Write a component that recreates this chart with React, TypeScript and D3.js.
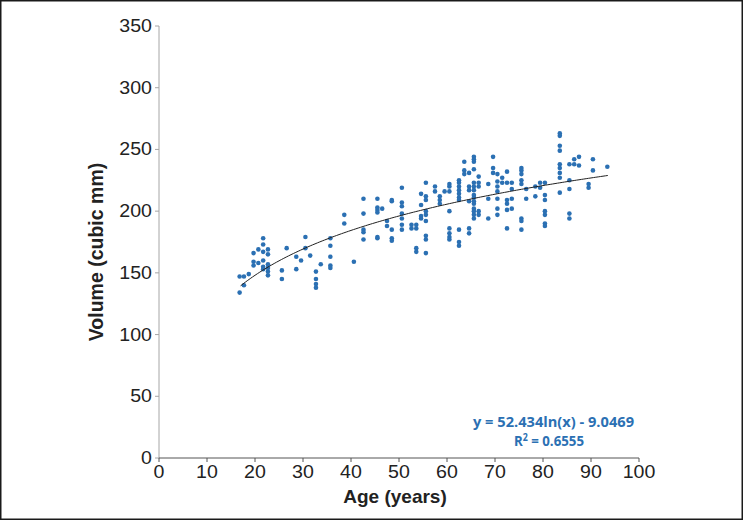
import React, { useEffect } from "react";
import * as d3 from "d3";

// Age (years) of each column of points
const AGES = [
  16.8, 17.7, 18.7, 19.7, 20.7, 21.7, 22.7, 25.6, 26.6, 28.6, 29.6, 30.5, 31.5,
  32.7, 33.7, 35.7, 38.6, 40.6, 42.6, 45.5, 46.5, 47.5, 48.5, 50.6, 52.6, 53.6,
  54.6, 55.6, 57.5, 58.5, 59.5, 60.5, 62.5, 63.6, 64.6, 65.6, 66.6, 68.6, 69.6,
  70.5, 71.5, 72.5, 73.5, 75.5, 76.5, 78.4, 79.4, 80.4, 83.5, 85.5, 86.5, 87.5,
  89.5, 90.4, 93.4,
];

// Volume (cubic mm) values for each age above
const VOLUMES = [
  [147, 134],
  [147, 140],
  [149],
  [166, 159, 156],
  [169, 158],
  [178, 173, 167, 160, 155, 153],
  [169, 165, 157, 154, 151, 148],
  [152, 145],
  [170],
  [163, 153],
  [160],
  [179, 170],
  [164],
  [151, 145, 141, 138],
  [157],
  [178, 172, 163, 156, 154],
  [197, 190],
  [159],
  [210, 198, 185, 183, 177],
  [210, 203, 201, 199, 179, 178],
  [202],
  [192, 188],
  [209, 208, 185, 178, 176],
  [219, 207, 204, 198, 194, 189, 185],
  [189, 186],
  [189, 186, 170, 167],
  [214, 205, 196, 194],
  [223, 212, 209, 200, 197, 192, 180, 177, 166],
  [220, 216],
  [212, 209, 206],
  [216],
  [222, 220, 216, 200, 186, 182, 179, 177],
  [225, 223, 220, 217, 214, 211, 209, 185, 175, 172],
  [240, 233, 230],
  [231, 220, 217, 208, 186, 182],
  [244, 242, 240, 234, 223, 220, 217, 213, 211, 208, 206, 202, 200, 197, 194],
  [228, 223, 220, 200, 197],
  [222, 210, 194],
  [244, 235, 231],
  [230, 224, 220, 216, 210, 202, 197],
  [227, 223],
  [232, 223, 209, 206, 201, 186],
  [223, 218, 210, 202],
  [235, 233, 230, 225, 222, 194, 192, 185],
  [218, 210],
  [220, 212],
  [223, 219],
  [223, 213, 209, 200, 197, 190, 188],
  [263, 261, 253, 249, 238, 235, 231, 227, 215],
  [238, 225, 218, 198, 194],
  [242, 238],
  [244, 237],
  [222, 219],
  [242, 233],
  [236],
];

const X_TICKS = [0, 10, 20, 30, 40, 50, 60, 70, 80, 90, 100];
const Y_TICKS = [0, 50, 100, 150, 200, 250, 300, 350];

// Logarithmic trendline coefficients: y = A ln(x) + B
const TREND_A = 52.434;
const TREND_B = -9.0469;
const TREND_RANGE = [17, 93.5];

const EQUATION = "y = 52.434ln(x) - 9.0469";
const R2_LABEL = "R";
const R2_VALUE = " = 0.6555";

const W = 743;
const H = 520;

export default function App() {
  useEffect(() => {
    document.body.style.margin = "0";
  }, []);

  const x = d3.scaleLinear().domain([0, 100]).range([159, 639]);
  const y = d3.scaleLinear().domain([0, 350]).range([458, 26]);

  const points: { a: number; v: number }[] = [];
  AGES.forEach((a, i) => VOLUMES[i].forEach((v) => points.push({ a, v })));

  const trend = d3.range(TREND_RANGE[0], TREND_RANGE[1] + 0.001, 0.5).map((a) => ({
    a,
    v: TREND_A * Math.log(a) + TREND_B,
  }));
  const line = d3
    .line<{ a: number; v: number }>()
    .x((d) => x(d.a))
    .y((d) => y(d.v))
    .curve(d3.curveMonotoneX);

  const font = "'Liberation Sans', Arial, sans-serif";
  const blue = "#2b70b3";

  return (
    <svg
      width={W}
      height={H}
      style={{ display: "block", position: "absolute", left: 0, top: 0, background: "#fff" }}
    >
      <rect x={0} y={0} width={W} height={H} fill="#fff" />
      <rect x={0.75} y={0.75} width={W - 1.5} height={H - 1.5} fill="none" stroke="#1a1a1a" strokeWidth={1.5} />

      {/* Y axis */}
      <line x1={x(0)} x2={x(0)} y1={y(350)} y2={y(0)} stroke="#a6a6a6" strokeWidth={1} />
      {Y_TICKS.map((t) => (
        <g key={"y" + t}>
          <line x1={x(0) - 4} x2={x(0)} y1={y(t)} y2={y(t)} stroke="#a6a6a6" strokeWidth={1} />
          <text
            transform={`translate(${x(0) - 7},${y(t) + 6}) scale(1.12,1)`}
            textAnchor="end"
            fontFamily={font}
            fontSize={17.5}
            fill="#222"
          >
            {t}
          </text>
        </g>
      ))}

      {/* X axis */}
      <line x1={x(0)} x2={x(100)} y1={y(0)} y2={y(0)} stroke="#555" strokeWidth={1} />
      {X_TICKS.map((t) => (
        <g key={"x" + t}>
          <line x1={x(t)} x2={x(t)} y1={y(0)} y2={y(0) + 4} stroke="#555" strokeWidth={1} />
          <text
            transform={`translate(${x(t)},${y(0) + 20}) scale(1.12,1)`}
            textAnchor="middle"
            fontFamily={font}
            fontSize={17.5}
            fill="#222"
          >
            {t}
          </text>
        </g>
      ))}

      {/* Axis titles */}
      <text
        x={395}
        y={503}
        textAnchor="middle"
        fontFamily={font}
        fontSize={19}
        fontWeight="bold"
        fill="#222"
      >
        Age (years)
      </text>
      <text
        transform={`translate(103,252) rotate(-90)`}
        textAnchor="middle"
        fontFamily={font}
        fontSize={19.5}
        fontWeight="bold"
        fill="#222"
      >
        Volume (cubic mm)
      </text>

      {/* Points */}
      {points.map((p, i) => (
        <circle key={i} cx={x(p.a)} cy={y(p.v)} r={2.3} fill={blue} />
      ))}

      {/* Trendline */}
      <path d={line(trend) || ""} fill="none" stroke="#222" strokeWidth={1} />

      {/* Equation */}
      <text
        x={473}
        y={427}
        textLength={161}
        lengthAdjust="spacingAndGlyphs"
        fontFamily="'Open Sans', sans-serif"
        fontSize={15}
        fontWeight="bold"
        fill={blue}
      >
        {EQUATION}
      </text>
      <text
        x={514}
        y={446}
        fontFamily="'Open Sans', sans-serif"
        fontSize={15}
        fontWeight="bold"
        fill={blue}
        textLength={70}
        lengthAdjust="spacingAndGlyphs"
      >
        {R2_LABEL}
        <tspan dy={-5} fontSize={10}>2</tspan>
        <tspan dy={5}>{R2_VALUE}</tspan>
      </text>
    </svg>
  );
}
